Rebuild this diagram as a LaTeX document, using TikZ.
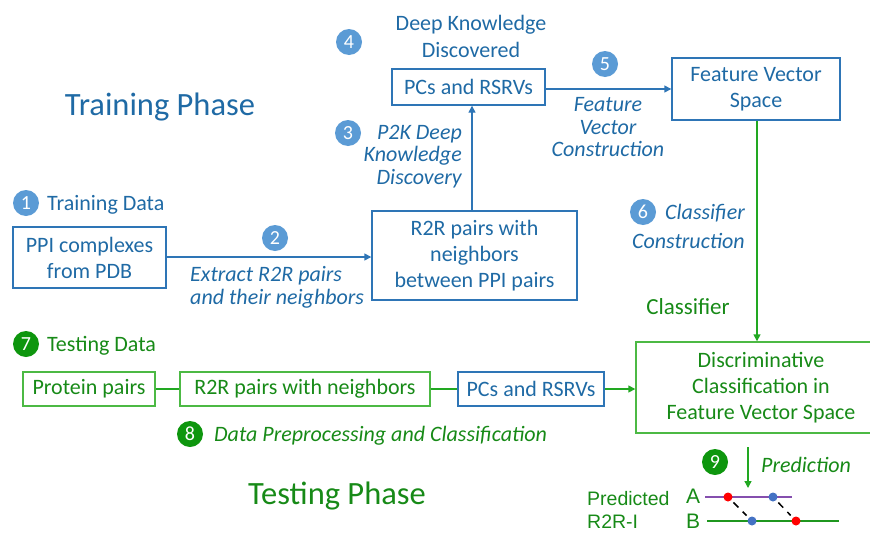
\documentclass[tikz,border=0pt]{standalone}
\usepackage{fontspec}
\setmainfont{Carlito}
\newfontfamily\arialfont{Liberation Sans}
\usetikzlibrary{arrows.meta}
\definecolor{tblue}{HTML}{1F6AA5}
\definecolor{bblue}{HTML}{2E75B6}
\definecolor{cblue}{HTML}{5B9BD5}
\definecolor{tgreen}{HTML}{178A17}
\definecolor{bgreen}{HTML}{4CB944}
\definecolor{cgreen}{HTML}{0E960E}
\definecolor{agreen}{HTML}{22A822}
\definecolor{lpurple}{HTML}{7030A0}
\definecolor{dblue}{HTML}{4472C4}
\tikzset{
  x=1pt, y=-1pt,
  bluebox/.style={draw=bblue, line width=1.4pt, text=tblue, align=center, font=\fontsize{22}{26}\selectfont, inner sep=0pt},
  greenbox/.style={draw=bgreen, line width=1.4pt, text=tgreen, align=center, font=\fontsize{22}{26}\selectfont, inner sep=0pt},
  bnum/.style={circle, fill=cblue, text=white, minimum size=26pt, inner sep=0pt, font=\fontsize{20}{20}\selectfont},
  gnum/.style={circle, fill=cgreen, text=white, minimum size=26pt, inner sep=0pt, font=\fontsize{20}{20}\selectfont},
  blabel/.style={text=tblue, font=\fontsize{22}{22}\selectfont, inner sep=0pt, yshift=-1.5pt},
  glabel/.style={text=tgreen, font=\fontsize{22}{22}\selectfont, inner sep=0pt, yshift=-1.5pt},
  arlabel/.style={text=tgreen, inner sep=0pt},
  itlabel/.style={font=\fontsize{22}{22.5}\itshape\selectfont},
  barrow/.style={draw=bblue, line width=1.4pt, -{Triangle[length=7pt,width=7pt]}},
  garrow/.style={draw=agreen, line width=1.4pt, -{Triangle[length=7pt,width=7pt]}},
  gline/.style={draw=agreen, line width=1.4pt},
  dot/.style={circle, inner sep=0pt, minimum size=9pt},
}
\begin{document}
\begin{tikzpicture}
\useasboundingbox (0,0) rectangle (870,533);
\begin{scope}
\clip (0,0) rectangle (870,533);

% ---------- training phase ----------
\node[blabel, font=\fontsize{32.5}{34}\selectfont] (trainphase) at (160,106) {Training Phase};

\node[bnum] (n4) at (349,42) {4};
\node[blabel, align=center, font=\fontsize{22}{27}\selectfont] (deepk) at (471,35) {Deep Knowledge\\Discovered};
\node[bluebox, minimum width=153pt, minimum height=36pt] (pcs1) at (468.5,87) {PCs and RSRVs};

\node[bnum] (n5) at (605,64) {5};
\node[blabel, itlabel, align=center] (fvc) at (608,126) {Feature\\Vector\\Construction};

\node[bluebox, minimum width=168pt, minimum height=62pt] (fvs) at (756,89) {Feature Vector\\Space};

\node[bnum] (n3) at (348,133) {3};
\node[blabel, itlabel, align=right, anchor=east] (p2k) at (462,155) {P2K Deep\\Knowledge\\Discovery};

\node[bnum] (n1) at (26,203) {1};
\node[blabel, anchor=west] (traindata) at (47,203) {Training Data};

\node[bluebox, minimum width=153pt, minimum height=61pt] (ppi) at (89.5,257.5) {PPI complexes\\from PDB};

\node[bnum] (n2) at (275,238) {2};
\node[blabel, itlabel, align=left, anchor=north west] (extract) at (190,265) {Extract R2R pairs\\and their neighbors};

\node[bluebox, minimum width=205pt, minimum height=89pt] (r2r1) at (474.5,255.5) {R2R pairs with\\neighbors\\between PPI pairs};

\node[bnum] (n6) at (643,212) {6};
\node[blabel, itlabel, anchor=west] (cls1) at (665,212) {Classifier};
\node[blabel, itlabel, anchor=east] (cls2) at (745,239) {Construction};

\node[glabel, font=\fontsize{23}{24}\selectfont] (classifier) at (688,305) {Classifier};

% training connectors
\draw[barrow] (ppi.east |- 0,257) -- (r2r1.west |- 0,257);
\draw[barrow] (r2r1.north -| 472,0) -- (pcs1.south -| 472,0);
\draw[barrow] (pcs1.east |- 0,89) -- (fvs.west |- 0,89);

% ---------- testing phase ----------
\node[gnum] (n7) at (26,344) {7};
\node[glabel, anchor=west] (testdata) at (47,344) {Testing Data};

\node[greenbox, minimum width=132pt, minimum height=34pt] (prot) at (89,389) {Protein pairs};
\node[greenbox, minimum width=250pt, minimum height=34pt] (r2r2) at (305,389) {R2R pairs with neighbors};
\node[bluebox, minimum width=146pt, minimum height=34pt] (pcs2) at (531,389) {PCs and RSRVs};
\node[greenbox, minimum width=250pt, minimum height=91pt] (disc) at (761,387.5) {Discriminative\\Classification in\\Feature Vector Space};

\node[gnum] (n8) at (190,434) {8};
\node[glabel, itlabel, anchor=west] (dpc) at (214,434) {Data Preprocessing and Classification};

\node[glabel, font=\fontsize{32.5}{34}\selectfont] (testphase) at (337,495) {Testing Phase};

\draw[gline] (prot) -- (r2r2);
\draw[gline] (r2r2) -- (pcs2);
\draw[garrow] (pcs2) -- (disc.west |- pcs2);
\draw[garrow] (fvs.south -| 757,0) -- (disc.north -| 757,0);

% ---------- prediction ----------
\coordinate (predtop) at (748,447);
\coordinate (predend) at (748,488);
\draw[garrow] (predtop) -- (predend);
\node[gnum] (n9) at (715,462) {9};
\node[glabel, itlabel, anchor=west] (pred) at (761,463) {Prediction};

\node[arlabel, anchor=west, align=left, font=\fontsize{19.5}{23}\arialfont\selectfont] (predr2r) at (587,510) {Predicted\\R2R-I};
\node[arlabel, font=\fontsize{21}{21}\arialfont\selectfont] (la) at (693,496) {A};
\node[arlabel, font=\fontsize{21}{21}\arialfont\selectfont] (lb) at (693,521) {B};

\coordinate (a0) at (705,497);
\coordinate (a1) at (792,497);
\coordinate (b0) at (707,521);
\coordinate (b1) at (839,521);
\draw[lpurple!85, line width=2.8pt] (a0) -- (a1);
\draw[agreen!90!black, line width=2.8pt] (b0) -- (b1);
\node[dot, fill=red] (ra) at (728,497) {};
\node[dot, fill=dblue] (ba) at (773,497) {};
\node[dot, fill=dblue] (bb) at (752,521) {};
\node[dot, fill=red] (rb) at (796,521) {};
\draw[black, line width=1.5pt, dash pattern=on 7pt off 6pt, shorten <=3pt, shorten >=3pt] (ra) -- (bb);
\draw[black, line width=1.5pt, dash pattern=on 7pt off 6pt, shorten <=3pt, shorten >=3pt] (ba) -- (rb);
\end{scope}
\end{tikzpicture}
\end{document}
